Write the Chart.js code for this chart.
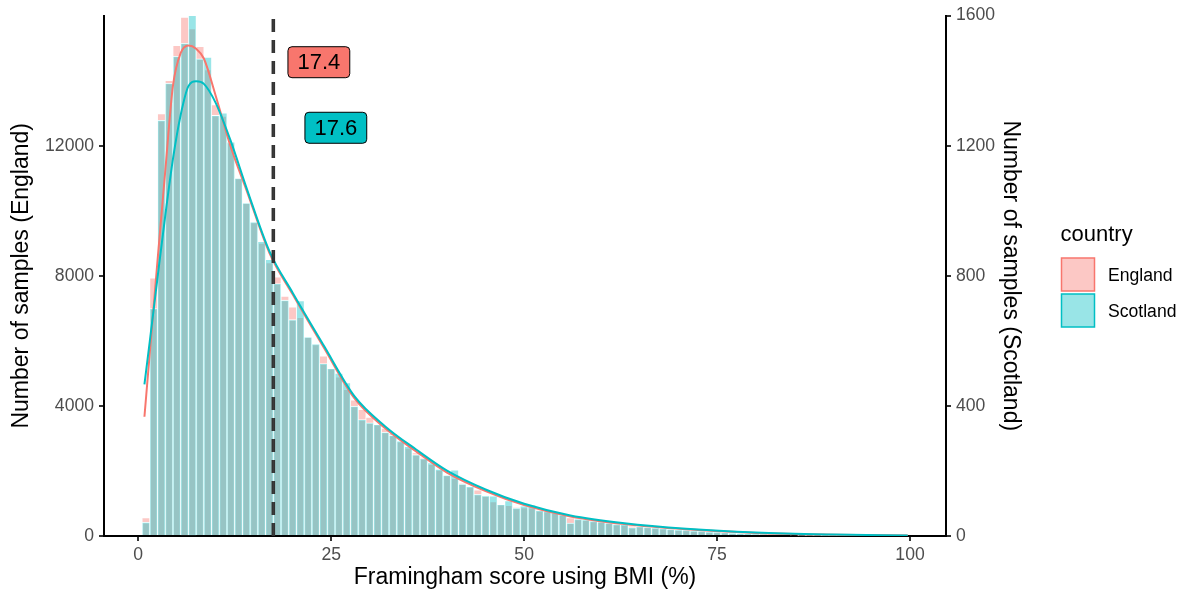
<!DOCTYPE html>
<html>
<head>
<meta charset="utf-8">
<script src="https://cdn.jsdelivr.net/npm/chart.js@4.4.1/dist/chart.umd.min.js"></script>
<style>
  html, body { margin: 0; padding: 0; background: #ffffff; }
  canvas { display: block; }
</style>
</head>
<body>
<canvas id="chart" width="1191" height="599"></canvas>
<script>
// Histogram bins (1-point wide, centred on whole percentages)
const binCenters = [1,2,3,4,5,6,7,8,9,10,11,12,13,14,15,16,17,18,19,20,21,22,23,24,25,26,27,28,29,30,
  31,32,33,34,35,36,37,38,39,40,41,42,43,44,45,46,47,48,49,50,51,52,53,54,55,56,57,58,59,60,
  61,62,63,64,65,66,67,68,69,70,71,72,73,74,75,76,77,78,79,80,81,82,83,84,85,86,87,88,89,90,
  91,92,93,94,95,96,97,98,99];

// Sample counts per bin, England (left axis)
const englandCounts = [560,7930,12980,14000,15080,15950,15590,15050,14330,13260,12900,12070,11020,10240,9650,9000,8400,7960,7370,7040,
  6720,6100,5920,5530,5150,4890,4500,4180,3890,3650,3430,3310,3150,2900,2700,2560,2420,2200,2030,1870,
  1770,1620,1500,1410,1210,1050,1000,940,880,870,860,800,760,720,640,560,520,480,470,440,
  400,370,340,310,290,270,250,230,210,190,175,160,145,130,118,105,95,82,70,60,
  50,42,35,30,25,21,18,15,12,10,8,7,6,5,4,3,2,2,1];

// Sample counts per bin, Scotland (right axis)
const scotlandCounts = [42,699,1278,1392,1475,1515,1600,1467,1472,1293,1300,1211,1100,1024,965,905,850,776,725,665,
  723,612,590,530,515,500,471,399,358,348,343,319,310,292,275,250,238,225,205,187,
  203,160,152,128,124,123,97,108,86,92,95,78,76,72,65,40,52,50,46,44,
  40,36,35,26,29,27,25,23,21,19,18,16,15,13,12,11,9,8,7,6,
  5,4,4,3,3,2,2,2,1,1,1,1,1,0,0,0,0,0,0];

// Smoothed density curves, scaled to counts
const densityX = [0.8,1.5,2.5,3.5,4.5,5.5,6.5,7.5,8.5,10,12,14,17,20,24,28,32,36,40,45,50,56,63,71,80,90,99.7];
const englandDensity = [3665,5650,8480,11230,13850,14850,15080,14980,14680,13560,11950,10650,8700,7430,5810,4240,3310,2600,1950,1380,950,600,365,205,95,40,12];
const scotlandDensity = [466,600,795,985,1160,1295,1383,1398,1390,1333,1213,1072,875,748,587,430,337,266,201,143,99,63,39,22,10.5,4.5,1.5];

// Mean scores and their labels
const countries = ['England', 'Scotland'];
const meanScores = [17.4, 17.6];
const meanLabels = ['17.4', '17.6'];
const labelX = [23.4, 25.6];
const labelY = [14566, 1255];
const labelAxis = ['y', 'y1'];

// Axis ticks
const xTicks = [0, 25, 50, 75, 100];
const yTicksEngland = [0, 4000, 8000, 12000];
const yTicksScotland = [0, 400, 800, 1200, 1600];

const FONT = "'Liberation Sans', Arial, Helvetica, sans-serif";
const COLOURS = ['#F8766D', '#00BFC4'];
const FILL_ALPHA = 0.4;

function rgba(hex, a) {
  const n = parseInt(hex.slice(1), 16);
  return `rgba(${(n >> 16) & 255},${(n >> 8) & 255},${n & 255},${a})`;
}
const FILLS = COLOURS.map(c => rgba(c, FILL_ALPHA));
const toXY = (xs, ys) => xs.map((x, i) => ({ x: x, y: ys[i] }));
const fixedTicks = values => scale => { scale.ticks = values.map(v => ({ value: v })); };
const plainNumber = v => String(v);

function roundRectPath(ctx, x, y, w, h, r) {
  ctx.beginPath();
  ctx.moveTo(x + r, y);
  ctx.lineTo(x + w - r, y);
  ctx.arcTo(x + w, y, x + w, y + r, r);
  ctx.lineTo(x + w, y + h - r);
  ctx.arcTo(x + w, y + h, x + w - r, y + h, r);
  ctx.lineTo(x + r, y + h);
  ctx.arcTo(x, y + h, x, y + h - r, r);
  ctx.lineTo(x, y + r);
  ctx.arcTo(x, y, x + r, y, r);
  ctx.closePath();
}

// Dashed mean lines and the value labels beside them
const meanMarkers = {
  id: 'meanMarkers',
  afterDatasetsDraw(chart) {
    const { ctx, chartArea, scales } = chart;
    ctx.save();
    ctx.beginPath();
    ctx.rect(chartArea.left, chartArea.top, chartArea.right - chartArea.left, chartArea.bottom - chartArea.top);
    ctx.clip();
    ctx.strokeStyle = '#333333';
    ctx.lineWidth = 2;
    ctx.setLineDash([13, 8]);
    meanScores.forEach(m => {
      const px = scales.x.getPixelForValue(m);
      ctx.beginPath();
      ctx.moveTo(px, chartArea.bottom);
      ctx.lineTo(px, chartArea.top);
      ctx.stroke();
    });
    ctx.restore();

    ctx.save();
    ctx.font = `22px ${FONT}`;
    meanLabels.forEach((txt, i) => {
      const cx = scales.x.getPixelForValue(labelX[i]);
      const cy = scales[labelAxis[i]].getPixelForValue(labelY[i]);
      const w = ctx.measureText(txt).width + 19;
      const h = 31;
      roundRectPath(ctx, cx - w / 2, cy - h / 2, w, h, 4);
      ctx.fillStyle = COLOURS[i];
      ctx.fill();
      ctx.lineWidth = 1;
      ctx.strokeStyle = '#000000';
      ctx.stroke();
      ctx.fillStyle = '#000000';
      ctx.textAlign = 'center';
      ctx.textBaseline = 'middle';
      ctx.fillText(txt, cx, cy + 1);
    });
    ctx.restore();
  }
};

// Fill legend for the two countries, to the right of the plot
const countryLegend = {
  id: 'countryLegend',
  afterDraw(chart) {
    const ctx = chart.ctx;
    const left = chart.chartArea.right + 115.5;
    ctx.save();
    ctx.fillStyle = '#000000';
    ctx.textAlign = 'left';
    ctx.textBaseline = 'alphabetic';
    ctx.font = `22px ${FONT}`;
    ctx.fillText('country', left - 1, 240.5);
    countries.forEach((name, i) => {
      const top = 258 + i * 36;
      ctx.fillStyle = '#ffffff';
      ctx.fillRect(left, top, 33, 33);
      ctx.fillStyle = FILLS[i];
      ctx.fillRect(left, top, 33, 33);
      ctx.strokeStyle = COLOURS[i];
      ctx.lineWidth = 1.5;
      ctx.strokeRect(left, top, 33, 33);
      ctx.fillStyle = '#000000';
      ctx.font = `17.6px ${FONT}`;
      ctx.fillText(name, left + 46.5, top + 16.5 + 6.3);
    });
    ctx.restore();
  }
};

const tickFont = { family: FONT, size: 17.6 };
const titleFont = { family: FONT, size: 23 };
const tickGrid = { drawOnChartArea: false, drawTicks: true, tickLength: 5, color: '#333333', lineWidth: 2, offset: false };
const axisBorder = { display: true, color: '#000000', width: 2 };

new Chart(document.getElementById('chart'), {
  type: 'bar',
  data: {
    datasets: [
      {
        type: 'line', label: 'Scotland density', data: toXY(densityX, scotlandDensity), yAxisID: 'y1',
        borderColor: COLOURS[1], borderWidth: 2, pointRadius: 0, fill: false,
        cubicInterpolationMode: 'monotone', order: 0
      },
      {
        type: 'line', label: 'England density', data: toXY(densityX, englandDensity), yAxisID: 'y',
        borderColor: COLOURS[0], borderWidth: 2, pointRadius: 0, fill: false,
        cubicInterpolationMode: 'monotone', order: 1
      },
      {
        label: 'Scotland', data: toXY(binCenters, scotlandCounts), yAxisID: 'y1',
        backgroundColor: FILLS[1], borderColor: '#ffffff',
        borderWidth: { top: 0.8, left: 0.7, right: 0.7, bottom: 0 }, borderSkipped: false,
        barPercentage: 1, categoryPercentage: 1, grouped: false, order: 2
      },
      {
        label: 'England', data: toXY(binCenters, englandCounts), yAxisID: 'y',
        backgroundColor: FILLS[0], borderColor: '#ffffff',
        borderWidth: { top: 0.8, left: 0.7, right: 0.7, bottom: 0 }, borderSkipped: false,
        barPercentage: 1, categoryPercentage: 1, grouped: false, order: 3
      }
    ]
  },
  options: {
    responsive: false,
    animation: false,
    devicePixelRatio: 1,
    layout: { padding: { top: 15, left: 0, bottom: 0, right: 163.2 } },
    plugins: { legend: { display: false }, tooltip: { enabled: false } },
    scales: {
      x: {
        type: 'linear', min: -4.44, max: 104.66, offset: false,
        afterBuildTicks: fixedTicks(xTicks),
        afterFit: s => { s.height = 63; },
        grid: tickGrid, border: axisBorder,
        ticks: { font: tickFont, color: '#4D4D4D', padding: 4, autoSkip: false, maxRotation: 0, callback: plainNumber },
        title: { display: true, text: 'Framingham score using BMI (%)', font: titleFont, color: '#000000', padding: { top: 0, bottom: 7.2 } }
      },
      y: {
        type: 'linear', position: 'left', min: 0, max: 16000,
        afterBuildTicks: fixedTicks(yTicksEngland),
        afterFit: s => { s.width = 104; },
        grid: tickGrid, border: axisBorder,
        ticks: { font: tickFont, color: '#4D4D4D', padding: 5, callback: plainNumber },
        title: { display: true, text: 'Number of samples (England)', font: titleFont, color: '#000000', padding: { top: 8.2, bottom: 0 } }
      },
      y1: {
        type: 'linear', position: 'right', min: 0, max: 1600,
        afterBuildTicks: fixedTicks(yTicksScotland),
        afterFit: s => { s.width = 81.8; },
        grid: tickGrid, border: axisBorder,
        ticks: { font: tickFont, color: '#4D4D4D', padding: 5, callback: plainNumber },
        title: { display: true, text: 'Number of samples (Scotland)', font: titleFont, color: '#000000', padding: { top: 4, bottom: 0 } }
      }
    }
  },
  plugins: [meanMarkers, countryLegend]
});
</script>
</body>
</html>
